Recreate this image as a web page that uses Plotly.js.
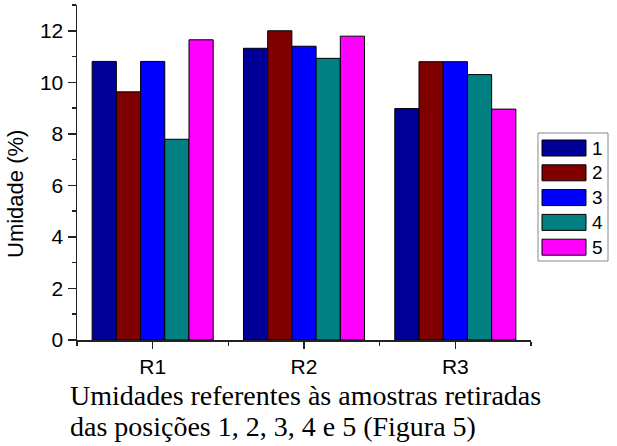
<!DOCTYPE html>
<html>
<head>
<meta charset="utf-8">
<script src="https://cdn.plot.ly/plotly-3.0.1.min.js"></script>
<style>html,body{margin:0;padding:0;background:#fff;}#chart{width:617px;height:446px;}</style>
</head>
<body>
<div id="chart"></div>
<script>
// ---- data ----
var categories = ["R1", "R2", "R3"];
var seriesNames = ["1", "2", "3", "4", "5"];
var s1 = [10.81, 11.32, 8.98];
var s2 = [9.63, 12.0, 10.80];
var s3 = [10.81, 11.40, 10.80];
var s4 = [7.79, 10.93, 10.30];
var s5 = [11.65, 11.79, 8.96];
var colors = ["#000099", "#800000", "#0000FF", "#008080", "#FF00FF"];
var yTitle = "Umidade (%)";
var captionLines = ["Umidades referentes às amostras retiradas", "das posições 1, 2, 3, 4 e 5 (Figura 5)"];

var seriesValues = [s1, s2, s3, s4, s5];
var xIdx = categories.map(function (c, i) { return i; });

var traces = seriesValues.map(function (vals, k) {
  return {
    type: "bar",
    name: seriesNames[k],
    x: xIdx,
    y: vals,
    marker: { color: colors[k], line: { color: "#000", width: 1 } },
    showlegend: false
  };
});

// custom legend (paper coordinates)
var L = 77, R = 531, T = 5, B = 340;
function px2x(p) { return (p - L) / (R - L); }
function py2y(p) { return (B - p) / (B - T); }
var shapes = [];
var annotations = [];
shapes.push({ type: "rect", xref: "paper", yref: "paper",
  x0: px2x(538), x1: px2x(608), y0: py2y(133), y1: py2y(261),
  line: { color: "#888", width: 1 }, fillcolor: "rgba(0,0,0,0)" });
seriesNames.forEach(function (n, k) {
  var cy = 148 + k * 24.8;
  shapes.push({ type: "rect", xref: "paper", yref: "paper",
    x0: px2x(542), x1: px2x(586), y0: py2y(cy + 8), y1: py2y(cy - 8),
    line: { color: "#000", width: 1 }, fillcolor: colors[k] });
  annotations.push({ xref: "paper", yref: "paper", x: px2x(590), y: py2y(cy),
    xanchor: "left", yanchor: "middle", showarrow: false, text: n,
    font: { family: "Arial, Liberation Sans", size: 19, color: "#000" } });
});
annotations.push({ xref: "paper", yref: "paper", x: px2x(16), y: py2y(194),
  xanchor: "center", yanchor: "middle", showarrow: false, text: yTitle, textangle: -90,
  font: { family: "Arial, Liberation Sans", size: 22, color: "#000" } });
annotations.push({ xref: "paper", yref: "paper", x: px2x(68), y: py2y(413),
  xanchor: "left", yanchor: "bottom", showarrow: false, text: captionLines[0],
  font: { family: "Times New Roman, Liberation Serif", size: 28, color: "#000" } });
annotations.push({ xref: "paper", yref: "paper", x: px2x(68), y: py2y(444),
  xanchor: "left", yanchor: "bottom", showarrow: false, text: captionLines[1],
  font: { family: "Times New Roman, Liberation Serif", size: 28, color: "#000" } });

var layout = {
  width: 617, height: 446,
  margin: { l: L, r: 617 - R, t: T, b: 446 - B, pad: 0 },
  paper_bgcolor: "#fff", plot_bgcolor: "#fff",
  barmode: "group", bargap: 0.2, bargroupgap: 0,
  showlegend: false,
  font: { family: "Arial, Liberation Sans", size: 21, color: "#000" },
  xaxis: {
    range: [-0.5, 2.5], tickmode: "array", tickvals: xIdx, ticktext: categories,
    showline: true, linecolor: "#222", linewidth: 1.5, mirror: false,
    ticks: "outside", ticklen: 7, tickwidth: 1.5, tickcolor: "#222",
    showgrid: false, zeroline: false,
    minor: { tickmode: "array", tickvals: [-0.5, 0.5, 1.5, 2.5], ticks: "outside", ticklen: 4, tickwidth: 1.5, tickcolor: "#222", showgrid: false },
    tickfont: { size: 21 }
  },
  yaxis: {
    range: [0, 13], dtick: 2, tick0: 0,
    showline: true, linecolor: "#222", linewidth: 1.5,
    ticks: "outside", ticklen: 8, tickwidth: 1.5, tickcolor: "#222",
    showgrid: false, zeroline: false,
    minor: { dtick: 1, ticks: "outside", ticklen: 4, tickwidth: 1.5, tickcolor: "#222", showgrid: false },
    tickfont: { size: 21 }
  },
  shapes: shapes,
  annotations: annotations
};

Plotly.newPlot("chart", traces, layout, { displayModeBar: false, staticPlot: true });
</script>
</body>
</html>
